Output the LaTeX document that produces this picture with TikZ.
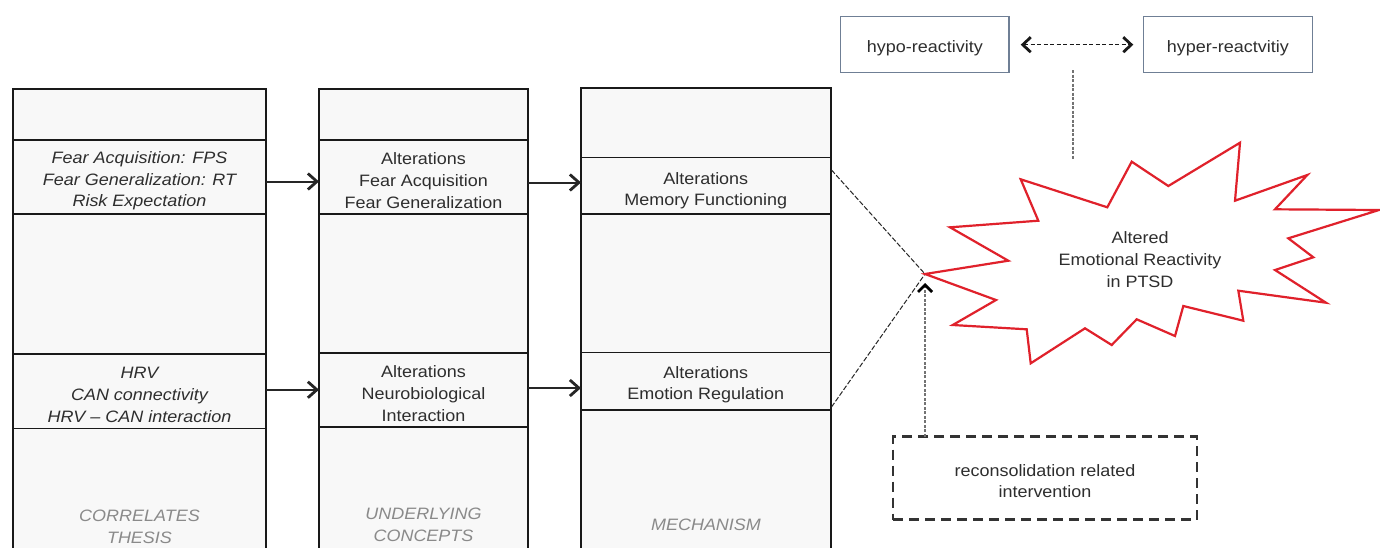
\documentclass[tikz,border=0pt]{standalone}
\usepackage{fontspec}
\setmainfont{Liberation Sans}[FakeStretch=1.09]
\usetikzlibrary{arrows.meta,calc}
\definecolor{txt}{HTML}{2E2E2E}
\definecolor{lblgray}{HTML}{8A8A8A}
\definecolor{colfill}{HTML}{F8F8F8}
\definecolor{boxblue}{HTML}{6F7F95}
\definecolor{starred}{HTML}{E0212B}
\begin{document}
\begin{tikzpicture}[x=1pt,y=-1pt,
  font=\fontsize{16.5}{21.7}\selectfont,
  column/.style={draw=black!90, line width=2pt, fill=colfill, anchor=north west, inner sep=0pt, outer sep=0pt},
  band/.style={draw=black!90, line width=1.8pt, fill=colfill, anchor=north west, inner sep=0pt, outer sep=0pt},
  bandtext/.style={align=center, text=txt, inner sep=0pt},
  itbandtext/.style={bandtext, font=\fontsize{16.5}{21.7}\selectfont\itshape},
  colname/.style={text=lblgray, font=\fontsize{16.5}{21.7}\selectfont\itshape, align=center},
  flow/.style={draw=black!85, line width=2pt, -{Straight Barb[length=9pt,width=16pt,line width=2.8pt]}},
  thinlink/.style={draw=black!85, line width=1pt, dash pattern=on 5pt off 2pt},
  topbox/.style={draw=boxblue, line width=1.5pt, fill=white, anchor=north west, inner sep=0pt, outer sep=0pt},
  intbox/.style={draw=black!80, line width=2.5pt, dash pattern=on 10pt off 6pt, fill=white, anchor=north west, inner sep=0pt, outer sep=0pt},
  startext/.style={align=center, text=txt}
]
\fill[white] (0,0) rectangle (1380,547);
\useasboundingbox (0,0) rectangle (1380,547);
\clip (0,0) rectangle (1380,547);

% columns
\node[column, minimum width=253pt, minimum height=520pt] (col1) at (13,89) {};
\node[column, minimum width=209pt, minimum height=520pt] (col2) at (319,89) {};
\node[column, minimum width=249.5pt, minimum height=520pt] (col3) at (581,88) {};

% bands
\node[band, minimum width=253pt, minimum height=74pt] (c1a) at (13,140) {};
\node[band, minimum width=253pt, minimum height=74.5pt] (c1b) at (13,354) {};
\node[band, minimum width=209pt, minimum height=74pt] (c2a) at (319,140) {};
\node[band, minimum width=209pt, minimum height=74pt] (c2b) at (319,353) {};
\node[band, minimum width=249.5pt, minimum height=56.5pt] (c3a) at (581,157.5) {};
\node[band, minimum width=249.5pt, minimum height=57.5pt] (c3b) at (581,352.5) {};

% band texts
\node[itbandtext] (t1a) at ([yshift=-4pt]c1a.center) {Fear Acquisition: FPS\\Fear Generalization: RT\\Risk Expectation};
\node[itbandtext] (t1b) at ([yshift=-3.5pt]c1b.center) {HRV\\CAN connectivity\\HRV – CAN interaction};
\node[bandtext] (t2a) at ([yshift=-3.5pt]c2a.center) {Alterations\\Fear Acquisition\\Fear Generalization};
\node[bandtext] (t2b) at ([yshift=-3.5pt]c2b.center) {Alterations\\Neurobiological\\Interaction};
\node[bandtext] (t3a) at ([yshift=-5pt]c3a.center) {Alterations\\Memory Functioning};
\node[bandtext] (t3b) at ([yshift=-3.5pt]c3b.center) {Alterations\\Emotion Regulation};

% column names
\node[colname] (n1) at (139.5,527) {CORRELATES\\THESIS};
\node[colname] (n2) at (423.5,524.5) {UNDERLYING\\CONCEPTS};
\node[colname] (n3) at (706,525) {MECHANISM};

% flow arrows
\draw[flow] ([yshift=-4.5pt]c1a.east) -- ([yshift=-4.5pt]c1a.east -| c2a.west);
\draw[flow] ([yshift=-5.5pt]c2a.east) -- ([yshift=-5.5pt]c2a.east -| c3a.west);
\draw[flow] ([yshift=1.5pt]c1b.east) -- ([yshift=1.5pt]c1b.east -| c2b.west);
\draw[flow] ([yshift=2pt]c2b.east) -- ([yshift=2pt]c2b.east -| c3b.west);

% star
\coordinate (tip) at (925,274);
\draw[thinlink] ($(c3a.north east)+(1,12.5)$) -- (tip);
\draw[thinlink] ($(c3b.south east)+(1,-3)$) -- (tip);
\draw[starred, line width=2.2pt, fill=white, line join=miter]
  (tip) -- (1008.3,260.7) -- (950,227.3) -- (1038.3,220.7) -- (1020.7,179.3)
  -- (1107.3,207.3) -- (1131.7,161.7) -- (1168.3,186) -- (1240,142.7)
  -- (1235,200.7) -- (1307.3,175) -- (1275,209.3) -- (1379,210)
  -- (1288.3,238.3) -- (1313.3,257.3) -- (1275,270) -- (1326,302.7)
  -- (1238.3,290.7) -- (1243.3,320.7) -- (1183.3,306) -- (1175,336)
  -- (1136.7,319.3) -- (1111.7,345) -- (1085,328.3) -- (1030.7,363.3)
  -- (1026.7,329.3) -- (952.7,325) -- (996,300) -- cycle;
\node[startext] (star) at (1140,259.5) {Altered\\Emotional Reactivity\\in PTSD};

% top boxes
\node[topbox, minimum width=168.3pt, minimum height=56pt] (hypo) at (840.7,16.7) {};
\node[topbox, minimum width=169pt, minimum height=56pt] (hyper) at (1143.3,16.7) {};
\node[bandtext] (thypo) at ([yshift=-3.5pt]hypo.center) {hypo-reactivity};
\node[bandtext] (thyper) at ([yshift=-3.5pt]hyper.center) {hyper-reactvitiy};
\draw[black!90, line width=1.5pt, dash pattern=on 4pt off 2.5pt,
  {Straight Barb[length=8pt,width=15pt,line width=2.8pt]}-{Straight Barb[length=8pt,width=15pt,line width=2.8pt]},
  shorten <=11.7pt, shorten >=10pt] (hypo.east) -- (hyper.west);
\coordinate (vtop) at (1073.3,70);
\coordinate (vbot) at (1073.3,160);
\draw[black!55, line width=2pt, dash pattern=on 3pt off 1.5pt] (vtop) -- (vbot);

% intervention
\node[intbox, minimum width=304pt, minimum height=83pt] (int) at (893,436.5) {};
\node[bandtext] (tint) at ([yshift=-3pt]int.center) {reconsolidation related\\intervention};
\coordinate (ia) at ($(int.north west)+(32,0)$);
\draw[black!55, line width=2pt, dash pattern=on 3pt off 1.5pt,
  -{Straight Barb[length=7pt,width=14pt,line width=2.8pt,color=black]}] (ia) -- ($(tip)+(0,9)$);
\end{tikzpicture}
\end{document}
